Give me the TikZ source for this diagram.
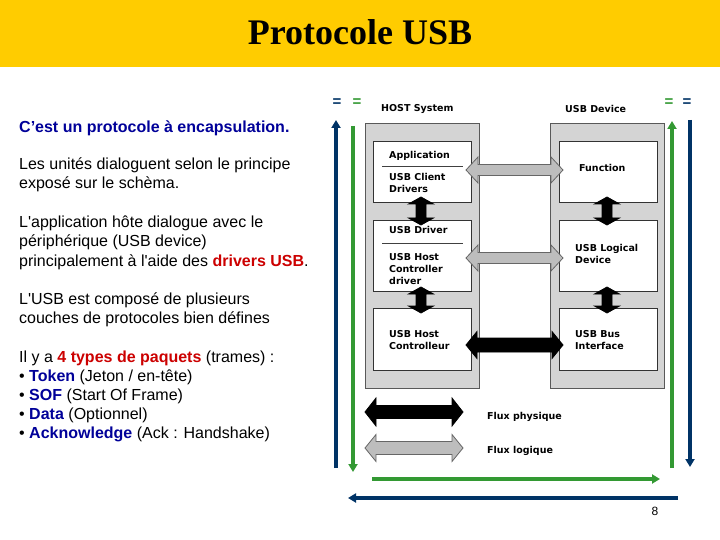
\documentclass[tikz,border=0pt]{standalone}
\usepackage{fontspec}
\setmainfont{Liberation Sans}
\newfontfamily\titrefont{Liberation Serif}
\newfontfamily\schemafont{DejaVu Sans}
\usetikzlibrary{arrows.meta}

\definecolor{bandeau}{HTML}{FFCC00}
\definecolor{bleuf}{HTML}{003366}
\definecolor{vert}{HTML}{339933}
\definecolor{bleutxt}{HTML}{000099}
\definecolor{rouge}{HTML}{CC0000}
\definecolor{grisbloc}{HTML}{D4D4D4}
\definecolor{grisfleche}{HTML}{BDBDBD}

% grosse flèche double : #2 demi-longueur, #3 demi-corps, #4 demi-tête, #5 longueur tête
\newcommand{\fleche}[5][]{%
  \filldraw[line width=0.8pt, #1] (-#2,0) -- (-#2+#5,#4) -- (-#2+#5,#3) -- (#2-#5,#3)
    -- (#2-#5,#4) -- (#2,0) -- (#2-#5,-#4) -- (#2-#5,-#3) -- (-#2+#5,-#3)
    -- (-#2+#5,-#4) -- cycle;}

\tikzset{
  bloc/.style={draw=black!65, fill=grisbloc, line width=1pt, minimum width=114,
    minimum height=265, inner sep=0, anchor=north west},
  couche/.style={draw=black!80, fill=white, line width=1pt, minimum width=98,
    inner sep=0, anchor=north west},
  etiq/.style={font=\schemafont\bfseries\fontsize{9.5}{12}\selectfont, align=left,
    anchor=west, inner sep=0},
  texte/.style={font=\fontsize{16}{19}\selectfont, anchor=base west, inner sep=0},
  flux/.style={line width=3.5pt, -{Triangle[width=9pt,length=8pt]}},
  egal/.style={font=\bfseries\fontsize{15}{15}\selectfont, inner sep=0},
}

\begin{document}
\begin{tikzpicture}[x=1pt, y=-1pt]
    % fond et bandeau
    \fill[white] (0,0) rectangle (720,540);
    \useasboundingbox (0,0) rectangle (720,540);
    \fill[bandeau] (0,0) rectangle (720,67);
    \node[font=\titrefont\bfseries\fontsize{36}{36}\selectfont, anchor=base, inner sep=0]
       (titre) at (360,45) {Protocole USB};

    % texte de gauche
    \node[texte, text=bleutxt, font=\bfseries\fontsize{16}{19}\selectfont] (t1) at (19,133)
       {C’est un protocole à encapsulation.};
    \node[texte] (t2) at (19,170) {Les unités dialoguent selon le principe};
    \node[texte] (t3) at (19,189) {exposé sur le schèma.};
    \node[texte] (t4) at (19,228) {L\textquotesingle application hôte dialogue avec le};
    \node[texte] (t5) at (19,247) {périphérique (USB device)};
    \node[texte] (t6) at (19,266) {principalement à l\textquotesingle aide des
       \textcolor{rouge}{\textbf{drivers USB}}.};
    \node[texte] (t7) at (19,304) {L\textquotesingle USB est composé de plusieurs};
    \node[texte] (t8) at (19,323) {couches de protocoles bien défines};
    \node[texte] (t9) at (19,362) {Il y a \textcolor{rouge}{\textbf{4 types de paquets}} (trames) :};
    \node[texte] (t10) at (19,381) {• \textcolor{bleutxt}{\textbf{Token}} (Jeton / en-tête)};
    \node[texte] (t11) at (19,400) {• \textcolor{bleutxt}{\textbf{SOF}} (Start Of Frame)};
    \node[texte] (t12) at (19,419) {• \textcolor{bleutxt}{\textbf{Data}} (Optionnel)};
    \node[texte] (t13) at (19,438) {• \textcolor{bleutxt}{\textbf{Acknowledge}} (Ack : Handshake)};

    % flèches d'encapsulation
    \draw[flux, bleuf] (336,468) -- (336,120);
    \draw[flux, vert] (353,126) -- (353,472);
    \draw[flux, vert] (372,479) -- (660,479);
    \draw[flux, bleuf] (678,498) -- (348,498);
    \draw[flux, vert] (672,468) -- (672,121);
    \draw[flux, bleuf] (690,120) -- (690,467);
    \node[egal, text=bleuf] (e1) at (337,103) {=};
    \node[egal, text=vert] (e2) at (357,103) {=};
    \node[egal, text=vert] (e3) at (669,103) {=};
    \node[egal, text=bleuf] (e4) at (687,103) {=};

    % blocs hôte et périphérique
    \node[bloc] (hote) at (365,123) {};
    \node[bloc] (periph) at (550,123) {};
    \node[etiq] (lhote) at (381,109) {HOST System};
    \node[etiq] (lperiph) at (565,109) {USB Device};

    \node[couche, minimum height=61] (h1) at (373,141) {};
    \node[couche, minimum height=71] (h2) at (373,220) {};
    \node[couche, minimum height=62] (h3) at (373,308) {};
    \node[couche, minimum height=61] (d1) at (559,141) {};
    \node[couche, minimum height=71] (d2) at (559,220) {};
    \node[couche, minimum height=62] (d3) at (559,308) {};

    \draw[black!75, line width=1pt] (382,167) -- (463,167);
    \draw[black!75, line width=1pt] (382,243) -- (463,243);

    \node[etiq] (app) at (389,156) {Application};
    \node[etiq] (client) at (389,183) {USB Client\\Drivers};
    \node[etiq] (drv) at (389,230) {USB Driver};
    \node[etiq] (hcd) at (389,269) {USB Host\\Controller\\driver};
    \node[etiq] (hc) at (389,340) {USB Host\\Controlleur};
    \node[etiq] (fct) at (579,168) {Function};
    \node[etiq] (logi) at (575,254) {USB Logical\\Device};
    \node[etiq] (bus) at (575,340) {USB Bus\\Interface};

    % flux logiques et physiques
    \fleche[shift={(514.5,170)}, fill=grisfleche, draw=black!60]{48.5}{5.5}{13}{12}
    \fleche[shift={(514.5,258)}, fill=grisfleche, draw=black!60]{48.5}{5.5}{13}{12}
    \fleche[shift={(514.5,345)}, fill=black, draw=black]{48.5}{7}{13.5}{11}
    \fleche[shift={(421,211)}, rotate=90, fill=black, draw=black]{14}{5}{12.5}{7}
    \fleche[shift={(421,300)}, rotate=90, fill=black, draw=black]{13}{5}{12.5}{7}
    \fleche[shift={(607,211)}, rotate=90, fill=black, draw=black]{14}{5}{12.5}{7}
    \fleche[shift={(607,300)}, rotate=90, fill=black, draw=black]{13}{5}{12.5}{7}

    % légende
    \fleche[shift={(414,412)}, fill=black, draw=black]{49}{6.5}{14}{11}
    \fleche[shift={(414,448)}, fill=grisfleche, draw=black!60]{49}{6.5}{13.5}{11}
    \node[etiq] (lphys) at (487,417) {Flux physique};
    \node[etiq] (llog) at (487,451) {Flux logique};

    \node[font=\fontsize{12}{12}\selectfont, inner sep=0] (num) at (655,511) {8};
\end{tikzpicture}
\end{document}
